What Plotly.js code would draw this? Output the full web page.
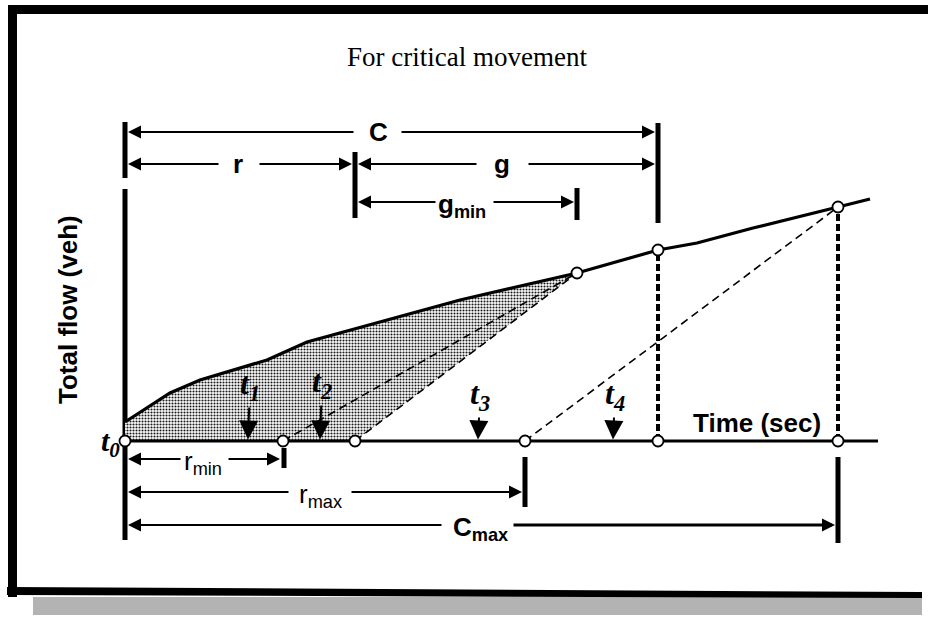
<!DOCTYPE html>
<html><head><meta charset="utf-8">
<script src="https://cdn.plot.ly/plotly-3.0.1.min.js"></script>
<style>html,body{margin:0;padding:0;background:#fff}#chart{width:928px;height:619px}</style>
</head><body><div id="chart"></div>
<script>
// ---------- data (time units / cumulative-flow units) ----------
const curveTime = [0, 4.5, 7.5, 10.8, 14.2, 18.2, 21.5, 25.5, 33.5, 45.2, 53.3, 57.2, 62.8, 71.3, 74.5];
const curveFlow = [1.9, 4.8, 6.1, 7.1, 8.1, 9.9, 10.8, 11.9, 14.1, 16.8, 19.1, 19.8, 21.3, 23.4, 24.2];
const axisEventTimes = [0, 15.8, 23.0, 40.0, 53.3, 71.3];
const curveEventTimes = [45.2, 53.3, 71.3];
const dischargeStart = [15.8, 23.0, 40.0];
const dischargeEnd = [45.2, 45.2, 71.3];
const dropTimes = [53.3, 71.3];
const greenStart = 23.0;
const shadeEnd = 45.2;
const timeAxisEnd = 75.3;
const tLabels = ['t<sub>1</sub>', 't<sub>2</sub>', 't<sub>3</sub>', 't<sub>4</sub>'];
const tTimes = [12.3, 19.5, 35.3, 48.8];
const dimLabels = ['C', 'r', 'g', 'g<sub>min</sub>', 'r<sub>min</sub>', 'r<sub>max</sub>', 'C<sub>max</sub>'];
const dimStart = [0, 0, 23.0, 23.0, 0, 0, 0];
const dimEnd = [53.3, 23.0, 53.3, 45.2, 15.8, 40.0, 71.3];

// ---------- layout helpers (positions / styles) ----------
const dimLevel = [30.9, 27.7, 27.7, 23.9, -1.8, -5.1, -8.4];
const dimLabelX = [25.3, 11.3, 37.7, 33.7, 7.8, 19.5, 35.5];
const dimGapL = [23.0, 9.5, 35.3, 31.2, 5.7, 16.5, 31.8];
const dimGapR = [27.5, 13.3, 40.2, 36.7, 10.2, 22.5, 38.7];
const dimBold = [true, true, true, true, false, false, true];
const dimRightWidth = [2, 2, 2, 2, 2, 2, 3];
const tickBars = [[0, 26.3, 31.9], [23.0, 22.3, 28.9], [45.2, 22.1, 25.3], [53.3, 21.8, 31.8],
                  [15.9, -2.7, -0.7], [40.0, -6.6, -1.6], [71.3, -10.2, -1.6], [0, -9.9, 25.2]];
const tAy = [-54, -56, -44, -44];

const W = 928, H = 619;
const flowAt = t => curveFlow[curveTime.indexOf(t)];
const iShade = curveTime.indexOf(shadeEnd);

const traces = [];
traces.push({
  x: curveTime.slice(0, iShade + 1).concat([greenStart, 0]),
  y: curveFlow.slice(0, iShade + 1).concat([0, 0]),
  mode: 'lines', fill: 'toself', line: {width: 0, color: 'rgba(0,0,0,0)'},
  fillcolor: '#b8b8b8',
  fillpattern: {shape: '.', size: 3, solidity: 0.4, fgcolor: '#1a1a1a', bgcolor: '#fff'},
  hoverinfo: 'skip'
});
for (let i = 0; i < dischargeStart.length; i++) {
  traces.push({x: [dischargeStart[i], dischargeEnd[i]], y: [0, flowAt(dischargeEnd[i])],
    mode: 'lines', line: {color: '#000', width: 1.6, dash: '8px,5px'}});
}
for (const t of dropTimes) {
  traces.push({x: [t, t], y: [0, flowAt(t)], mode: 'lines', line: {color: '#000', width: 4, dash: '7px,3px'}});
}
traces.push({x: curveTime, y: curveFlow, mode: 'lines', line: {color: '#000', width: 3.2}});
traces.push({x: [0, timeAxisEnd], y: [0, 0], mode: 'lines', line: {color: '#000', width: 3}});
traces.push({
  x: axisEventTimes.concat(curveEventTimes),
  y: axisEventTimes.map(() => 0).concat(curveEventTimes.map(flowAt)),
  mode: 'markers', marker: {symbol: 'circle', size: 11, color: '#fff', line: {color: '#000', width: 1.8}}
});

const P = (x, y) => [x / W, 1 - y / H];
const shapes = [];
function prect(x0, y0, x1, y1, col) {
  const a = P(x0, y0), b = P(x1, y1);
  shapes.push({type: 'rect', xref: 'paper', yref: 'paper', x0: a[0], y0: a[1], x1: b[0], y1: b[1],
    fillcolor: col, line: {width: 0}, layer: 'above'});
}
prect(33, 597, 922, 615, '#b3b3b3');
prect(8, 5, 928, 14, '#000');
prect(8, 5, 17, 597, '#000');
(function () {
  const pts = [[7, 587], [922, 592], [922, 598], [7, 595]].map(p => P(p[0], p[1]));
  shapes.push({type: 'path', xref: 'paper', yref: 'paper',
    path: 'M' + pts.map(p => p[0] + ',' + p[1]).join('L') + 'Z', fillcolor: '#000', line: {width: 0}});
})();
for (const b of tickBars) {
  shapes.push({type: 'line', xref: 'x', yref: 'y', x0: b[0], x1: b[0], y0: b[1], y1: b[2],
    line: {color: '#000', width: 5}, layer: 'below'});
}

const ann = [];
const sans = 'Arial, "Liberation Sans", sans-serif';
const serif = '"Liberation Serif", "Times New Roman", serif';
for (let i = 0; i < dimLabels.length; i++) {
  const lvl = dimLevel[i];
  const arrowBase = {xref: 'x', yref: 'y', axref: 'x', ayref: 'y', text: '', showarrow: true,
    arrowhead: 2, arrowsize: 1.3, arrowwidth: 2, arrowcolor: '#000', standoff: 0, startstandoff: 0};
  ann.push(Object.assign({}, arrowBase, {x: dimStart[i] + 0.3, y: lvl, ax: dimGapL[i], ay: lvl}));
  ann.push(Object.assign({}, arrowBase, {x: dimEnd[i] - 0.3, y: lvl, ax: dimGapR[i], ay: lvl,
    arrowwidth: dimRightWidth[i], arrowsize: 2.6 / dimRightWidth[i]}));
  const hasSub = dimLabels[i].indexOf('<sub>') >= 0;
  ann.push({xref: 'x', yref: 'y', x: dimLabelX[i], y: lvl, text: dimLabels[i], showarrow: false,
    yshift: hasSub ? -3 : 0,
    font: {family: sans, size: 26, color: '#000', weight: dimBold[i] ? 'bold' : 'normal'}});
}
for (let i = 0; i < tLabels.length; i++) {
  ann.push({xref: 'x', yref: 'y', x: tTimes[i], y: 0.15, text: tLabels[i], showarrow: true,
    ax: 2, ay: tAy[i], arrowhead: 2, arrowsize: 1.9, arrowwidth: 2, arrowcolor: '#000', standoff: 0,
    font: {family: serif, size: 32, color: '#000', weight: 'bold', style: 'italic'}});
}
ann.push({xref: 'x', yref: 'y', x: -1.5, y: -0.2, text: 't<sub>0</sub>', showarrow: false,
  font: {family: serif, size: 30, color: '#000', weight: 'bold', style: 'italic'}});
ann.push({xref: 'x', yref: 'y', x: 63.2, y: 1.8, text: 'Time (sec)', showarrow: false,
  font: {family: sans, size: 26, color: '#000', weight: 'bold'}});
ann.push({xref: 'x', yref: 'y', x: -5.7, y: 13.1, text: 'Total flow (veh)', showarrow: false, textangle: -90,
  font: {family: sans, size: 26, color: '#000', weight: 'bold'}});

const layout = {
  width: W, height: H, margin: {l: 0, r: 0, t: 0, b: 0}, showlegend: false,
  paper_bgcolor: '#fff', plot_bgcolor: '#fff',
  title: {text: 'For critical movement', x: 467 / W, xanchor: 'center', y: 1 - 57 / H, yanchor: 'middle',
    yref: 'container', font: {family: serif, size: 27, color: '#000'}},
  xaxis: {range: [-12.5, 80.3], visible: false, fixedrange: true},
  yaxis: {range: [-17.8, 44.1], visible: false, fixedrange: true},
  shapes: shapes, annotations: ann
};
Plotly.newPlot('chart', traces, layout, {displayModeBar: false, staticPlot: true});
</script></body></html>
